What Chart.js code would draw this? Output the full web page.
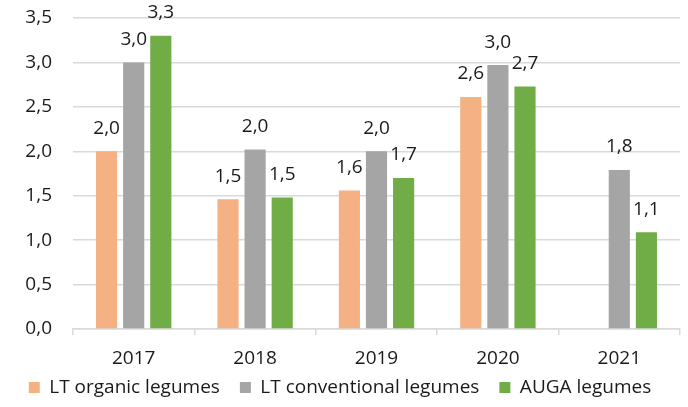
<!DOCTYPE html>
<html>
<head>
<meta charset="utf-8">
<script src="https://cdn.jsdelivr.net/npm/chart.js@4/dist/chart.umd.min.js"></script>
<style>
  html, body { margin: 0; padding: 0; background: #fff; }
  #wrap { width: 688px; height: 407px; }
</style>
</head>
<body>
<div id="wrap"><canvas id="chart"></canvas></div>
<script>
// Data
const years = ['2017', '2018', '2019', '2020', '2021'];
const organic = [2.0, 1.46, 1.56, 2.61, null];
const conventional = [3.0, 2.02, 2.0, 2.97, 1.79];
const auga = [3.3, 1.48, 1.7, 2.73, 1.09];
const seriesNames = ['LT organic legumes', 'LT conventional legumes', 'AUGA legumes'];
const seriesColors = ['#F4B183', '#A5A5A5', '#70AD47'];

const FONT = '"Open Sans", Lato, sans-serif';
const TEXT = '#1a1a1a';
const comma = (v) => Number(v).toFixed(1).replace('.', ',');

// Value labels above each bar
const barLabels = {
    id: 'barLabels',
    afterDatasetsDraw(chart) {
        const ctx = chart.ctx;
        ctx.save();
        ctx.font = '19px ' + FONT;
        ctx.fillStyle = TEXT;
        ctx.textAlign = 'center';
        ctx.textBaseline = 'middle';
        chart.data.datasets.forEach((ds, i) => {
            const meta = chart.getDatasetMeta(i);
            meta.data.forEach((bar, j) => {
                const v = ds.data[j];
                if (v === null) return;
                ctx.fillText(comma(v), bar.x, bar.y - 23);
            });
        });
        ctx.restore();
    }
};

const datasets = [organic, conventional, auga].map((values, i) => ({
    label: seriesNames[i],
    data: values,
    backgroundColor: seriesColors[i],
    barPercentage: 0.78,
    categoryPercentage: 0.67,
}));

const chart = new Chart(document.getElementById('chart'), {
    type: 'bar',
    data: { labels: years, datasets },
    plugins: [barLabels],
    options: {
        responsive: true,
        maintainAspectRatio: false,
        animation: false,
        layout: { padding: { left: 0, right: 8, top: 18, bottom: 0 } },
        plugins: {
            tooltip: { enabled: false },
            legend: {
                position: 'bottom',
                labels: {
                    boxWidth: 11,
                    boxHeight: 11,
                    padding: 20,
                    color: TEXT,
                    font: { family: FONT, size: 19 },
                },
            },
        },
        scales: {
            x: {
                afterFit: (scale) => { scale.height = 41; },
                grid: {
                    drawOnChartArea: false,
                    drawTicks: true,
                    tickLength: 6,
                    color: '#D9D9D9',
                    lineWidth: 1.5,
                },
                border: { display: true, color: '#D9D9D9', width: 1.5 },
                ticks: {
                    color: TEXT,
                    padding: 12,
                    font: { family: FONT, size: 19 },
                },
            },
            y: {
                afterFit: (scale) => {
                    scale.width = 73;
                    scale.paddingTop = 0;
                    scale.paddingBottom = 0;
                },
                min: 0,
                max: 3.5,
                grid: { color: '#D9D9D9', lineWidth: 1.5, drawTicks: false },
                border: { display: false },
                ticks: {
                    stepSize: 0.5,
                    padding: 21,
                    color: TEXT,
                    font: { family: FONT, size: 19 },
                    callback: (v) => comma(v),
                },
            },
        },
    },
});

// Shorter legend box, drawn a little higher, so the plot keeps its height
const legendFit = chart.legend.fit;
chart.legend.fit = function () {
    legendFit.call(this);
    this.height = 37;
};
const legendDraw = chart.legend.draw;
chart.legend.draw = function () {
    const top = this.top;
    this.top -= 12;
    legendDraw.call(this);
    this.top = top;
};
chart.update();
</script>
</body>
</html>
